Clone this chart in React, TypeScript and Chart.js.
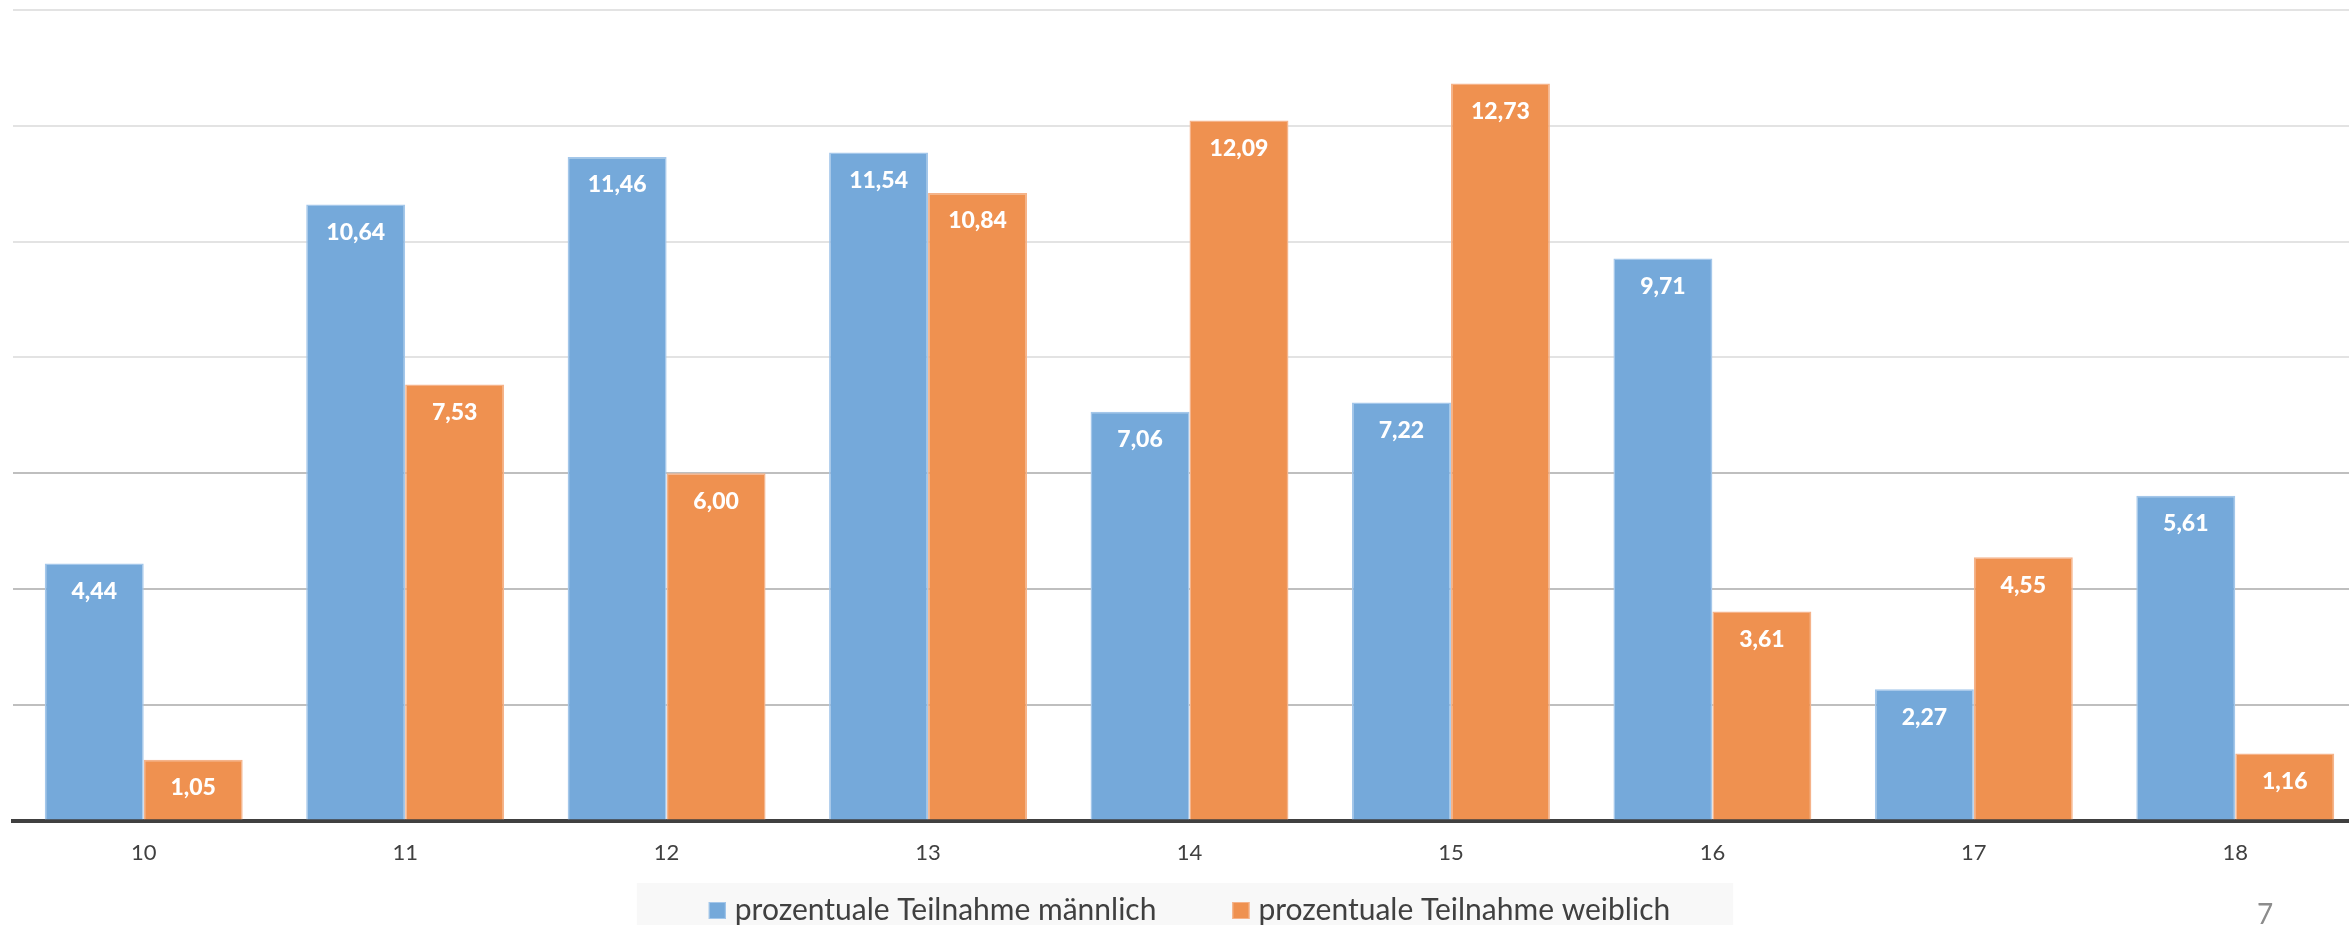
import React, { useEffect, useRef } from "react";
import { Chart, registerables } from "chart.js";

Chart.register(...registerables);

const categories = ["10", "11", "12", "13", "14", "15", "16", "17", "18"];
const maleValues = [4.44, 10.64, 11.46, 11.54, 7.06, 7.22, 9.71, 2.27, 5.61];
const femaleValues = [1.05, 7.53, 6.0, 10.84, 12.09, 12.73, 3.61, 4.55, 1.16];
const seriesLabels = ["prozentuale Teilnahme männlich", "prozentuale Teilnahme weiblich"];
const yTicks = [0, 2, 4, 6, 8, 10, 12, 14];
const pageNumber = "7";

const BLUE = "#75A9DA";
const BLUE_BORDER = "#A4C7EA";
const ORANGE = "#EF9150";
const ORANGE_BORDER = "#F5B38A";

const fmt = (v: number) => v.toFixed(2).replace(".", ",");

const dataLabelPlugin = {
  id: "dataLabels",
  afterDatasetsDraw(chart: any) {
    const ctx = chart.ctx;
    ctx.save();
    ctx.font = "900 23px Lato";
    ctx.fillStyle = "#FFFFFF";
    ctx.textAlign = "center";
    ctx.textBaseline = "middle";
    chart.data.datasets.forEach((ds: any, di: number) => {
      const meta = chart.getDatasetMeta(di);
      meta.data.forEach((el: any, i: number) => {
        ctx.fillText(fmt(ds.data[i]), el.x, el.y + 28);
      });
    });
    ctx.restore();
  },
};

const legendPlugin = {
  id: "customLegend",
  afterDraw(chart: any) {
    const ctx = chart.ctx;
    const area = chart.chartArea;
    const center = (area.left + area.right) / 2;
    ctx.save();
    ctx.font = "30px Lato";
    const box = 17;
    const gap = 9;
    const itemGap = 76;
    const widths = chart.data.datasets.map((d: any) => ctx.measureText(d.label).width);
    const total = widths.reduce((a: number, w: number) => a + box + gap + w, 0) + itemGap * (widths.length - 1);
    let x = center - total / 2;
    const cy = 910.5;
    ctx.fillStyle = "#F8F8F8";
    ctx.fillRect(x - 72, 883, total + 72 + 63, chart.height - 883);
    chart.data.datasets.forEach((d: any, i: number) => {
      ctx.fillStyle = d.backgroundColor;
      ctx.fillRect(x, cy - box / 2, box, box);
      ctx.strokeStyle = d.borderColor;
      ctx.lineWidth = 1;
      ctx.strokeRect(x + 0.5, cy - box / 2 + 0.5, box - 1, box - 1);
      ctx.fillStyle = "#404040";
      ctx.textAlign = "left";
      ctx.textBaseline = "middle";
      ctx.fillText(d.label, x + box + gap, cy);
      x += box + gap + widths[i] + itemGap;
    });
    ctx.restore();
  },
};

export default function App() {
  const ref = useRef<HTMLCanvasElement>(null);
  useEffect(() => {
    if (!ref.current) return;
    const chart = new Chart(ref.current, {
      type: "bar",
      data: {
        labels: categories,
        datasets: [
          {
            label: seriesLabels[0],
            data: maleValues,
            backgroundColor: BLUE,
            borderColor: BLUE_BORDER,
            borderWidth: 1.5,
            categoryPercentage: 0.757,
            barPercentage: 1,
          },
          {
            label: seriesLabels[1],
            data: femaleValues,
            backgroundColor: ORANGE,
            borderColor: ORANGE_BORDER,
            borderWidth: 1.5,
            categoryPercentage: 0.757,
            barPercentage: 1,
          },
        ],
      },
      options: {
        animation: false,
        responsive: false,
        layout: { padding: { left: 13, right: 0, top: 10, bottom: 40 } },
        plugins: { legend: { display: false }, tooltip: { enabled: false } },
        scales: {
          x: {
            grid: { display: false, drawTicks: false },
            border: { display: true, color: "#404040", width: 4 },
            ticks: { color: "#404040", font: { family: "Lato", size: 22 }, padding: 19 },
          },
          y: {
            min: 0,
            max: 14,
            afterBuildTicks: (axis: any) => {
              axis.ticks = yTicks.map((v) => ({ value: v }));
            },
            ticks: { display: false },
            border: { display: false },
            grid: {
              drawTicks: false,
              lineWidth: 2,
              color: (c: any) => (c.tick && c.tick.value <= 6 ? "#BFBFBF" : "#E3E3E3"),
            },
          },
        },
      },
      plugins: [dataLabelPlugin, legendPlugin],
    });
    return () => chart.destroy();
  }, []);

  return (
    <div
      style={{
        position: "absolute",
        left: 0,
        top: 0,
        width: 2349,
        height: 925,
        overflow: "hidden",
        background: "#FFFFFF",
      }}
    >
      <canvas ref={ref} width={2366} height={925} style={{ display: "block" }} />
      <div
        style={{
          position: "absolute",
          left: 2257,
          top: 899,
          fontFamily: "Lato",
          fontSize: 28,
          lineHeight: "28px",
          color: "#8C8C8C",
        }}
      >
        {pageNumber}
      </div>
    </div>
  );
}
